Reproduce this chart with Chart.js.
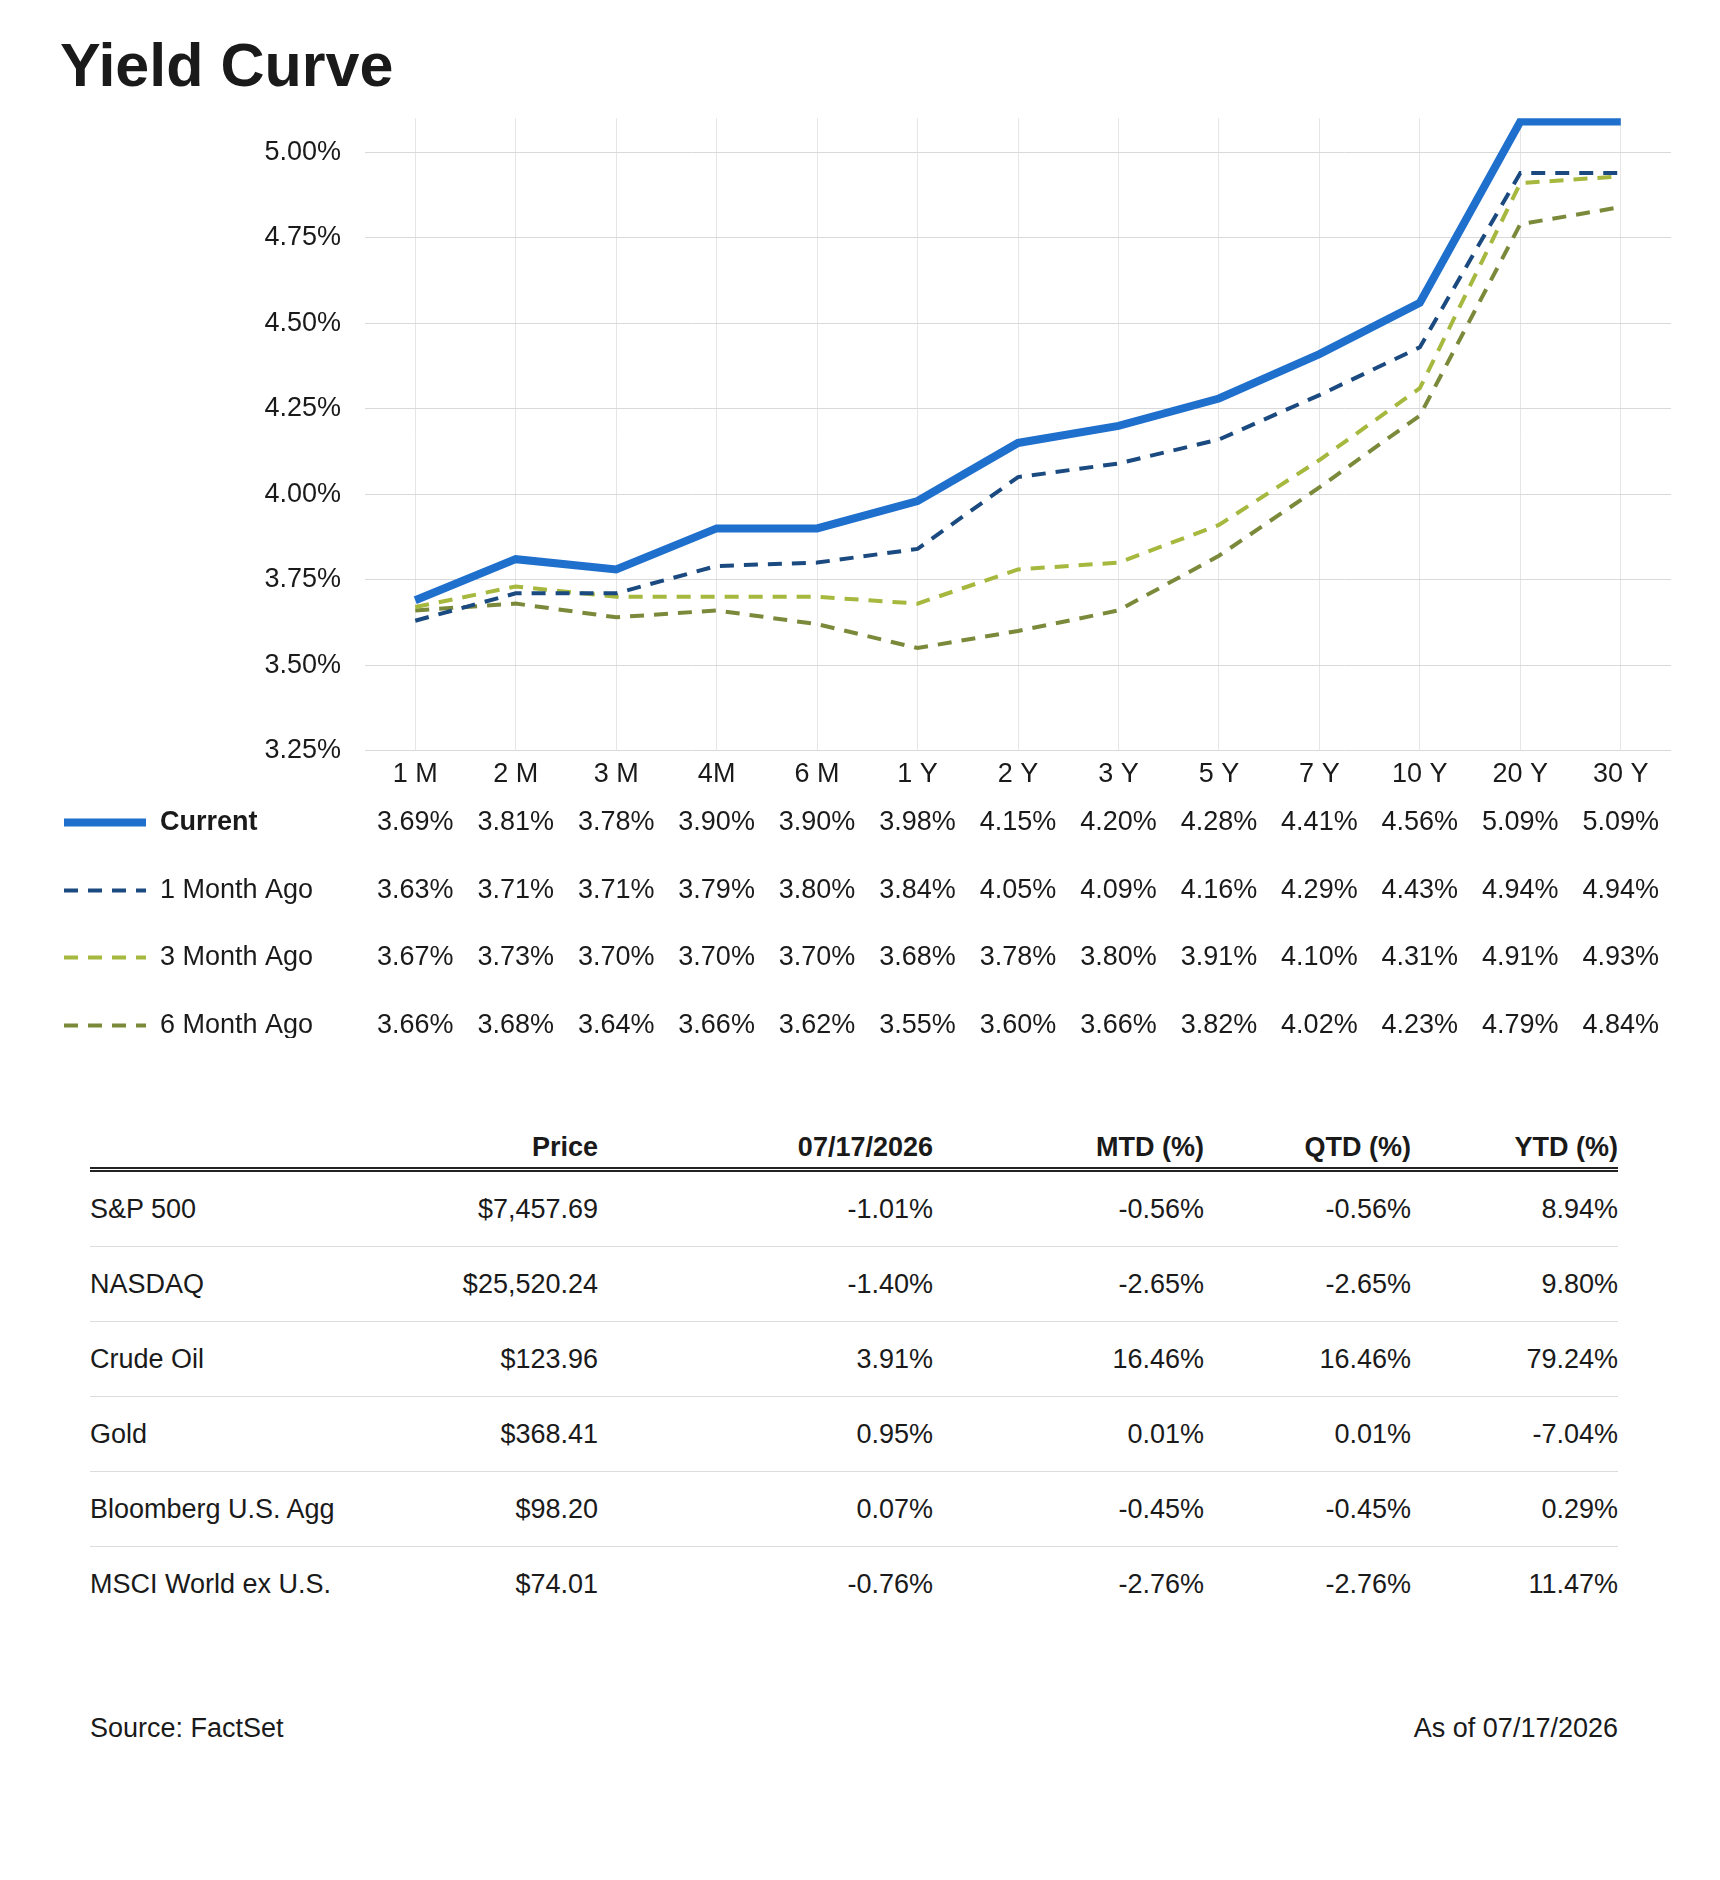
<!DOCTYPE html>
<html>
<head>
<meta charset="utf-8">
<script src="https://cdn.jsdelivr.net/npm/chart.js@4"></script>
<style>
  body { margin: 0; background: #fff; font-family: "Liberation Sans", Arial, sans-serif; color: #1a1a1a; }
  #page { position: relative; width: 1720px; height: 1880px; }
  h1 { position: absolute; left: 60px; top: 30px; margin: 0; font-size: 61px; font-weight: bold; }
  #wrap { position: absolute; left: 0; top: 78px; width: 1720px; height: 960px; }
  table { position: absolute; left: 90px; top: 1115px; width: 1528px; border-collapse: collapse; font-size: 27px; table-layout: fixed; }
  th { font-weight: bold; text-align: right; padding: 0 0 4px 0; border-bottom: 5px double #222; height: 48px; vertical-align: bottom; }
  td { text-align: right; height: 74px; border-bottom: 1px solid #ddd; padding: 0; }
  tr:last-child td { border-bottom: none; }
  td:first-child, th:first-child { text-align: left; }
  .foot { position: absolute; top: 1713px; font-size: 27px; }
</style>
</head>
<body>
<div id="page">
  <h1>Yield Curve</h1>
  <div id="wrap"><canvas id="chart"></canvas></div>
  <table id="tbl"></table>
  <div class="foot" style="left:90px">Source: FactSet</div>
  <div class="foot" style="right:102px">As of 07/17/2026</div>
</div>
<script>
const maturities = ["1 M", "2 M", "3 M", "4M", "6 M", "1 Y", "2 Y", "3 Y", "5 Y", "7 Y", "10 Y", "20 Y", "30 Y"];
const current   = [3.69, 3.81, 3.78, 3.90, 3.90, 3.98, 4.15, 4.20, 4.28, 4.41, 4.56, 5.09, 5.09];
const monthAgo1 = [3.63, 3.71, 3.71, 3.79, 3.80, 3.84, 4.05, 4.09, 4.16, 4.29, 4.43, 4.94, 4.94];
const monthAgo3 = [3.67, 3.73, 3.70, 3.70, 3.70, 3.68, 3.78, 3.80, 3.91, 4.10, 4.31, 4.91, 4.93];
const monthAgo6 = [3.66, 3.68, 3.64, 3.66, 3.62, 3.55, 3.60, 3.66, 3.82, 4.02, 4.23, 4.79, 4.84];

const tableHeaders = ["", "Price", "07/17/2026", "MTD (%)", "QTD (%)", "YTD (%)"];
const tableRows = [
  ["S&P 500", "$7,457.69", "-1.01%", "-0.56%", "-0.56%", "8.94%"],
  ["NASDAQ", "$25,520.24", "-1.40%", "-2.65%", "-2.65%", "9.80%"],
  ["Crude Oil", "$123.96", "3.91%", "16.46%", "16.46%", "79.24%"],
  ["Gold", "$368.41", "0.95%", "0.01%", "0.01%", "-7.04%"],
  ["Bloomberg U.S. Agg", "$98.20", "0.07%", "-0.45%", "-0.45%", "0.29%"],
  ["MSCI World ex U.S.", "$74.01", "-0.76%", "-2.76%", "-2.76%", "11.47%"]
];
const colWidths = [300, 208, 335, 271, 207, 207];

// build table
const tbl = document.getElementById("tbl");
let html = "<colgroup>" + colWidths.map(w => `<col style="width:${w}px">`).join("") + "</colgroup>";
html += "<tr>" + tableHeaders.map(h => `<th>${h}</th>`).join("") + "</tr>";
tableRows.forEach(r => { html += "<tr>" + r.map(c => `<td>${c}</td>`).join("") + "</tr>"; });
tbl.innerHTML = html;

const series = [
  { label: "Current", data: current, color: "#1f6fcc", width: 8, dash: [], bold: true },
  { label: "1 Month Ago", data: monthAgo1, color: "#1a4a80", width: 4, dash: [14, 10] },
  { label: "3 Month Ago", data: monthAgo3, color: "#a6b83e", width: 4, dash: [14, 10] },
  { label: "6 Month Ago", data: monthAgo6, color: "#7a8a3a", width: 4, dash: [14, 10] }
];
const rowOffsets = [72, 140, 207, 275];
const FONT = '"Liberation Sans", Arial, sans-serif';

// draws legend + value rows under the x axis
const rowsPlugin = {
  id: "rows",
  afterDraw(chart) {
    const ctx = chart.ctx, xs = chart.scales.x, base = chart.chartArea.bottom;
    ctx.save();
    series.forEach((s, i) => {
      const y = base + rowOffsets[i];
      ctx.strokeStyle = s.color;
      ctx.lineWidth = s.width;
      ctx.setLineDash(s.dash);
      ctx.beginPath(); ctx.moveTo(64, y); ctx.lineTo(146, y); ctx.stroke();
      ctx.setLineDash([]);
      ctx.fillStyle = "#1a1a1a";
      ctx.textBaseline = "middle";
      ctx.textAlign = "left";
      ctx.font = (s.bold ? "bold " : "") + "27px " + FONT;
      ctx.fillText(s.label, 160, y);
      ctx.font = "27px " + FONT;
      ctx.textAlign = "center";
      s.data.forEach((v, j) => ctx.fillText(v.toFixed(2) + "%", xs.getPixelForValue(j), y));
    });
    ctx.restore();
  }
};

new Chart(document.getElementById("chart"), {
  type: "line",
  data: {
    labels: maturities,
    datasets: series.map(s => ({
      label: s.label, data: s.data, borderColor: s.color, borderWidth: s.width,
      borderDash: s.dash, pointRadius: 0, tension: 0, fill: false
    }))
  },
  options: {
    responsive: true, maintainAspectRatio: false, animation: false,
    layout: { padding: { top: 18, right: 49, bottom: 239, left: 0 } },
    plugins: { legend: { display: false }, tooltip: { enabled: false } },
    scales: {
      x: {
        offset: true,
        grid: { offset: false, color: "#e6e6e6", drawTicks: false },
        border: { display: false },
        ticks: { color: "#1a1a1a", font: { size: 27, family: FONT }, padding: 8 }
      },
      y: {
        min: 3.25, max: 5.1,
        afterFit(axis) { axis.width = 365; },
        afterBuildTicks(axis) {
          axis.ticks = axis.ticks.filter(t => Math.abs(t.value * 4 - Math.round(t.value * 4)) < 1e-6);
        },
        grid: { color: "#d9d9d9", drawTicks: false },
        border: { display: false },
        ticks: {
          stepSize: 0.25, padding: 24, color: "#1a1a1a", font: { size: 27, family: FONT },
          callback: v => v.toFixed(2) + "%"
        }
      }
    }
  },
  plugins: [rowsPlugin]
});
</script>
</body>
</html>
